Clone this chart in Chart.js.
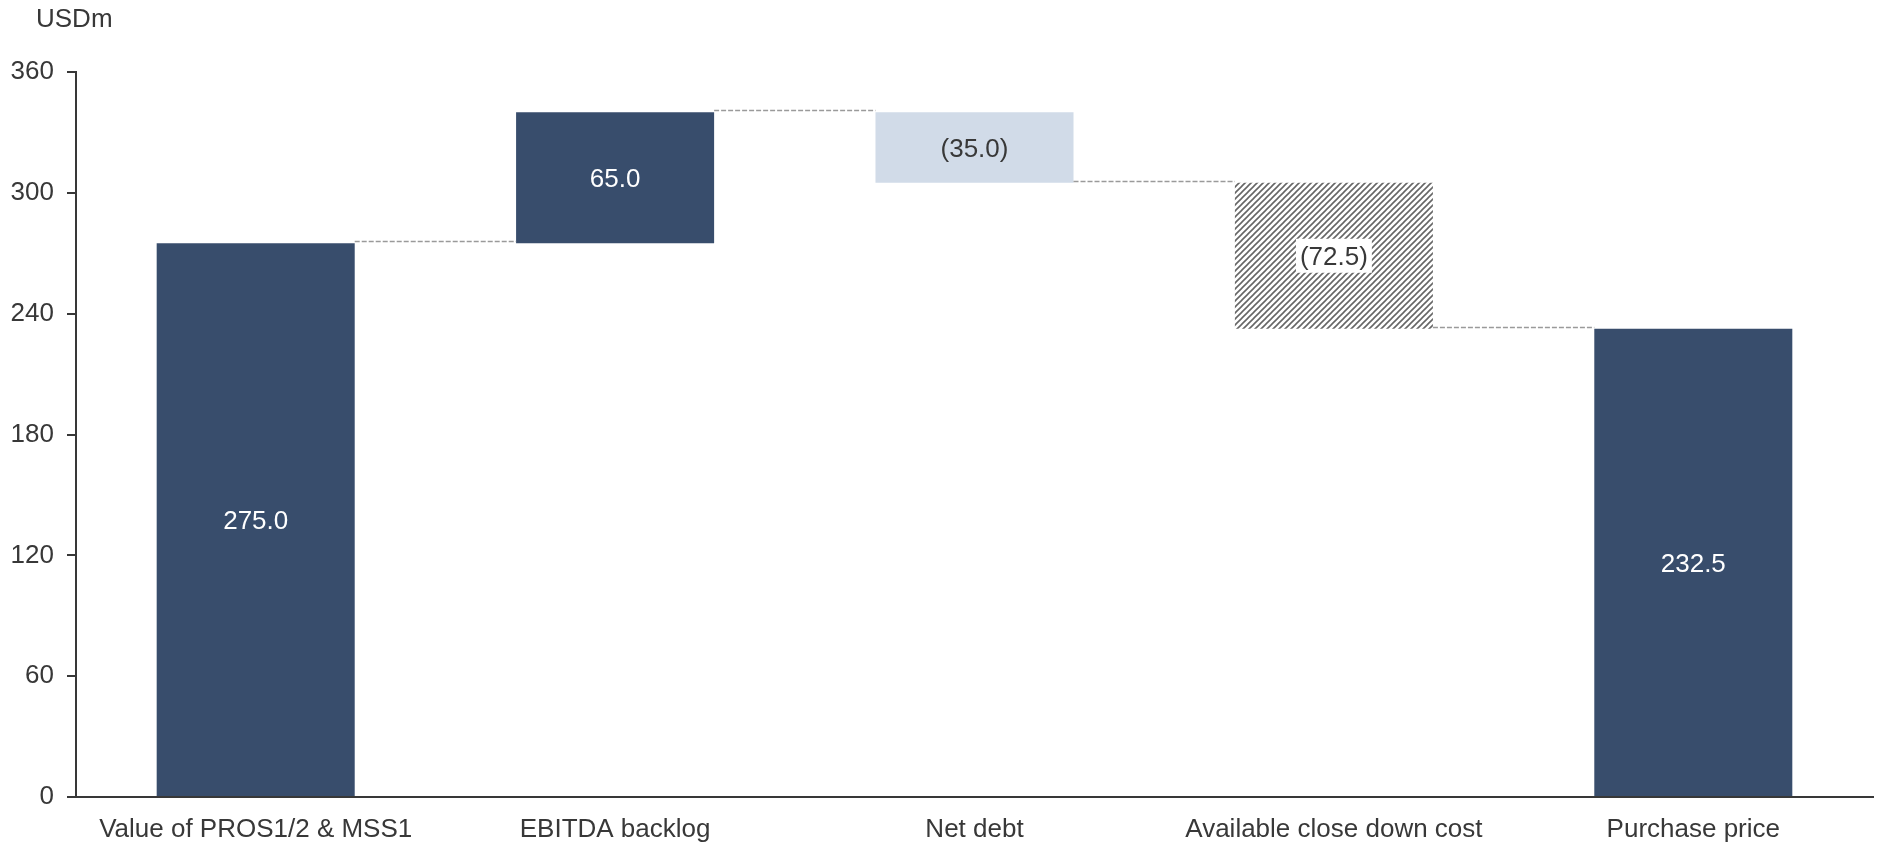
<!DOCTYPE html>
<html>
<head>
<meta charset="utf-8">
<title>Purchase price bridge</title>
<script src="https://cdn.jsdelivr.net/npm/chart.js"></script>
<style>
  html, body { margin: 0; padding: 0; background: #fff; }
  #wrap { position: relative; width: 1879px; height: 845px; }
</style>
</head>
<body>
<div id="wrap"><canvas id="bridge" width="1879" height="845"></canvas></div>
<script>
// bridge data (USDm)
var categories = ['Value of PROS1/2 & MSS1', 'EBITDA backlog', 'Net debt', 'Available close down cost', 'Purchase price'];
var amounts = [275.0, 65.0, -35.0, -72.5, 232.5];
var isTotal = [true, false, false, false, true];
var yTicks = [0, 60, 120, 180, 240, 300, 360];
var unitLabel = 'USDm';

var DARK = '#384d6c';
var LIGHT = '#d1dbe8';
var TEXT = '#383838';
var FONT = '"Liberation Sans", Arial, sans-serif';

// diagonal hatch for the close down cost step
function makeHatch() {
    var c = document.createElement('canvas');
    c.width = 6; c.height = 6;
    var g = c.getContext('2d');
    g.fillStyle = '#ffffff';
    g.fillRect(0, 0, 6, 6);
    g.strokeStyle = '#666666';
    g.lineWidth = 1.6;
    g.beginPath();
    g.moveTo(-1, 7); g.lineTo(7, -1);
    g.moveTo(-1, 1); g.lineTo(1, -1);
    g.moveTo(5, 7); g.lineTo(7, 5);
    g.stroke();
    return g.createPattern(c, 'repeat');
}

var ctx = document.getElementById('bridge').getContext('2d');
var fills = [DARK, DARK, LIGHT, makeHatch(), DARK];
var labelColors = ['#ffffff', '#ffffff', TEXT, TEXT, '#ffffff'];

// floating bars: totals start at zero, steps start at the running level
var ranges = [];
var levels = [];
var running = 0;
for (var i = 0; i < amounts.length; i++) {
    if (isTotal[i]) {
        ranges.push([0, amounts[i]]);
        running = amounts[i];
    } else {
        ranges.push([Math.min(running, running + amounts[i]), Math.max(running, running + amounts[i])]);
        running = running + amounts[i];
    }
    levels.push(running);
}

function fmt(v) {
    var s = Math.abs(v).toFixed(1);
    return v < 0 ? '(' + s + ')' : s;
}

var bridgeExtras = {
    id: 'bridgeExtras',
    afterDatasetsDraw: function(chart) {
        var c = chart.ctx;
        var meta = chart.getDatasetMeta(0);
        var y = chart.scales.y;

        // dashed connectors between neighbouring bars
        c.save();
        c.strokeStyle = '#9a9a9a';
        c.lineWidth = 1.5;
        c.setLineDash([5, 2]);
        for (var i = 0; i < meta.data.length - 1; i++) {
            var a = meta.data[i], b = meta.data[i + 1];
            var py = Math.round(y.getPixelForValue(levels[i])) - 1.5;
            c.beginPath();
            c.moveTo(a.x + a.width / 2, py);
            c.lineTo(b.x - b.width / 2, py);
            c.stroke();
        }
        c.restore();

        // value labels
        c.save();
        c.font = '26px ' + FONT;
        c.textAlign = 'center';
        c.textBaseline = 'middle';
        for (var j = 0; j < meta.data.length; j++) {
            var bar = meta.data[j];
            var cy = (bar.y + bar.base) / 2;
            var txt = fmt(amounts[j]);
            if (j === 3) {
                var w = c.measureText(txt).width + 8;
                c.fillStyle = '#ffffff';
                c.fillRect(bar.x - w / 2, cy - 17, w, 34);
            }
            c.fillStyle = labelColors[j];
            c.fillText(txt, bar.x, cy + 2);
        }
        c.restore();

        // unit caption
        c.save();
        c.font = '26px ' + FONT;
        c.fillStyle = TEXT;
        c.textAlign = 'left';
        c.textBaseline = 'middle';
        c.fillText(unitLabel, 36, 20);
        c.restore();
    }
};

var chart = new Chart(ctx, {
    type: 'bar',
    data: {
        labels: categories,
        datasets: [{
            data: ranges,
            backgroundColor: fills,
            borderWidth: 0,
            borderSkipped: false,
            categoryPercentage: 1.0,
            barPercentage: 0.551
        }]
    },
    options: {
        responsive: false,
        animation: false,
        layout: { padding: { left: 0, right: 6, top: 72, bottom: 0 } },
        plugins: {
            legend: { display: false },
            tooltip: { enabled: false }
        },
        scales: {
            x: {
                grid: { display: false },
                border: { display: true, color: TEXT, width: 2 },
                ticks: { color: TEXT, font: { family: FONT, size: 26 }, padding: 9, maxRotation: 0 },
                afterFit: function(s) { s.height = 48; }
            },
            y: {
                min: 0,
                max: 360,
                afterBuildTicks: function(s) {
                    s.ticks = yTicks.map(function(v) { return { value: v }; });
                },
                grid: { drawOnChartArea: false, drawTicks: true, tickLength: 9, color: TEXT, lineWidth: 2 },
                border: { display: true, color: TEXT, width: 2 },
                ticks: { color: TEXT, font: { family: FONT, size: 26 }, padding: 13 },
                afterFit: function(s) { s.width = 76; }
            }
        }
    },
    plugins: [bridgeExtras]
});
</script>
</body>
</html>
